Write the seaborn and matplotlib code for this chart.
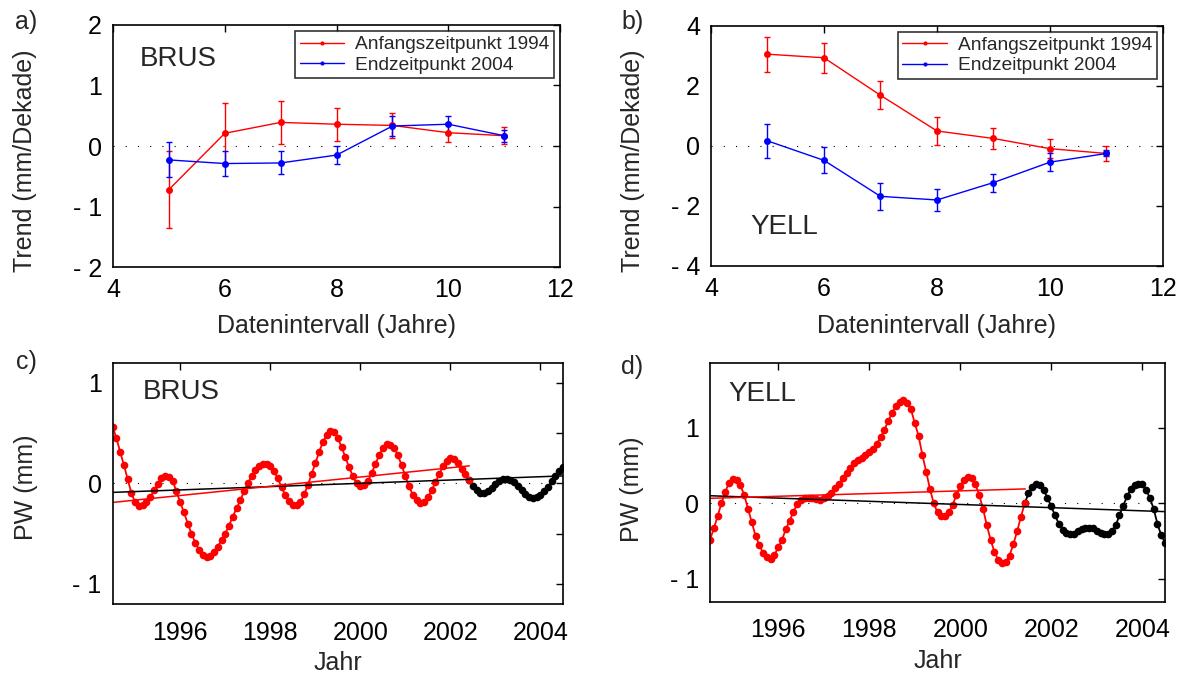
import numpy as np
import matplotlib
matplotlib.use('Agg')
import matplotlib.pyplot as plt
import seaborn as sns

# ---- trend vs. data interval (panels a, b)
intervall = [5, 6, 7, 8, 9, 10, 11]

brus_anf = [-0.72, 0.21, 0.39, 0.36, 0.34, 0.22, 0.17]
brus_anf_err = [0.64, 0.50, 0.36, 0.27, 0.21, 0.16, 0.14]
brus_end = [-0.23, -0.29, -0.28, -0.15, 0.33, 0.36, 0.17]
brus_end_err = [0.29, 0.21, 0.19, 0.15, 0.17, 0.14, 0.10]

yell_anf = [3.06, 2.94, 1.69, 0.50, 0.25, -0.09, -0.25]
yell_anf_err = [0.58, 0.50, 0.47, 0.46, 0.36, 0.31, 0.25]
yell_end = [0.17, -0.48, -1.68, -1.80, -1.22, -0.54, -0.25]
yell_end_err = [0.57, 0.43, 0.45, 0.36, 0.30, 0.30, 0.10]

# ---- monthly PW series 1994.5 - 2004.5 (panels c, d)
start_jahr = 1994.5
brus_pw = [0.56, 0.45, 0.31, 0.18, 0.04, -0.10, -0.19, -0.23, -0.22, -0.19,
           -0.14, -0.07, -0.01, 0.05, 0.07, 0.06, 0.02, -0.08, -0.19, -0.29,
           -0.40, -0.50, -0.59, -0.66, -0.71, -0.73, -0.72, -0.68, -0.63, -0.56,
           -0.50, -0.42, -0.33, -0.25, -0.17, -0.08, 0.00, 0.07, 0.13, 0.17,
           0.19, 0.19, 0.17, 0.12, 0.05, -0.04, -0.12, -0.18, -0.22, -0.22,
           -0.19, -0.11, -0.02, 0.09, 0.20, 0.31, 0.41, 0.48, 0.52, 0.51,
           0.45, 0.36, 0.26, 0.16, 0.07, 0.00, -0.03, -0.02, 0.02, 0.10,
           0.19, 0.28, 0.35, 0.39, 0.38, 0.35, 0.28, 0.18, 0.07, -0.03,
           -0.12, -0.17, -0.20, -0.19, -0.14, -0.07, 0.01, 0.09, 0.17, 0.22,
           0.25, 0.24, 0.20, 0.14, 0.09, 0.03, -0.03, -0.07, -0.10, -0.10,
           -0.08, -0.05, -0.01, 0.02, 0.04, 0.04, 0.03, 0.01, -0.03, -0.07,
           -0.11, -0.14, -0.15, -0.14, -0.12, -0.08, -0.04, 0.02, 0.07, 0.12,
           0.16]
brus_split = 95
brus_trend_rot = ([1994.5, 2002.42], [-0.19, 0.174])
brus_trend_alle = ([1994.5, 2004.5], [-0.09, 0.074])

yell_pw = [-0.48, -0.33, -0.17, 0.00, 0.15, 0.27, 0.32, 0.31, 0.24, 0.11,
           -0.07, -0.25, -0.43, -0.55, -0.66, -0.71, -0.73, -0.68, -0.58, -0.48,
           -0.34, -0.23, -0.11, -0.01, 0.04, 0.07, 0.07, 0.07, 0.06, 0.05,
           0.07, 0.10, 0.14, 0.20, 0.25, 0.33, 0.40, 0.46, 0.53, 0.57,
           0.60, 0.64, 0.68, 0.72, 0.79, 0.87, 0.97, 1.09, 1.19, 1.29,
           1.34, 1.36, 1.33, 1.24, 1.06, 0.89, 0.64, 0.42, 0.19, 0.00,
           -0.12, -0.17, -0.17, -0.12, -0.02, 0.11, 0.23, 0.31, 0.35, 0.33,
           0.25, 0.11, -0.07, -0.29, -0.48, -0.64, -0.75, -0.79, -0.77, -0.69,
           -0.54, -0.37, -0.18, 0.00, 0.13, 0.22, 0.26, 0.24, 0.18, 0.07,
           -0.04, -0.16, -0.27, -0.35, -0.39, -0.41, -0.40, -0.37, -0.34, -0.32,
           -0.32, -0.33, -0.36, -0.39, -0.41, -0.41, -0.37, -0.29, -0.16, -0.03,
           0.09, 0.19, 0.24, 0.26, 0.25, 0.18, 0.07, -0.07, -0.27, -0.42,
           -0.52]
yell_split = 83
yell_trend_rot = ([1994.5, 2001.43], [0.066, 0.19])
yell_trend_alle = ([1994.5, 2004.5], [0.10, -0.11])

sns.set_theme(style='white')
plt.rcParams['font.family'] = ['Liberation Sans', 'DejaVu Sans']
plt.rcParams['axes.linewidth'] = 1.2
plt.rcParams['axes.edgecolor'] = 'black'
FS = 18

fig = plt.figure(figsize=(11.85, 6.75), dpi=100)
ax_a = fig.add_axes([0.0954, 0.6044, 0.3772, 0.3586])
ax_b = fig.add_axes([0.6000, 0.6060, 0.3814, 0.3555])
ax_c = fig.add_axes([0.0951, 0.1052, 0.3800, 0.3575])
ax_d = fig.add_axes([0.5992, 0.1086, 0.3839, 0.3532])


def style_axes(ax, xpad):
    ax.tick_params(direction='in', top=True, right=True, length=5, width=1,
                   labelsize=FS, colors='black', pad=xpad, axis='x')
    ax.tick_params(direction='in', top=True, right=True, length=5, width=1,
                   labelsize=FS, colors='black', pad=8, axis='y')
    for s in ax.spines.values():
        s.set_visible(True)
        s.set_color('black')


def zero_line(ax):
    ax.axhline(0, color='black', lw=0.8, ls=(0, (1, 10)), zorder=1)


def trend_panel(ax, anf, anf_err, end, end_err, ylim, yticks, ylabels, name, name_pos):
    zero_line(ax)
    ax.errorbar(intervall, anf, yerr=anf_err, fmt='none', ecolor='red',
                elinewidth=1, capsize=2.3, capthick=1)
    ax.errorbar(intervall, end, yerr=end_err, fmt='none', ecolor='blue',
                elinewidth=1, capsize=2.3, capthick=1)
    sns.lineplot(x=intervall, y=anf, ax=ax, color='red', lw=1, marker='o',
                 markersize=5, markeredgewidth=0, estimator=None, sort=False,
                 label='Anfangszeitpunkt 1994')
    sns.lineplot(x=intervall, y=end, ax=ax, color='blue', lw=1, marker='o',
                 markersize=5, markeredgewidth=0, estimator=None, sort=False,
                 label='Endzeitpunkt 2004')
    ax.set_xlim(4, 12)
    ax.set_ylim(*ylim)
    ax.set_xticks([4, 6, 8, 10, 12])
    ax.set_yticks(yticks)
    ax.set_yticklabels(ylabels)
    style_axes(ax, 8)
    ax.set_xlabel('Datenintervall (Jahre)', fontsize=FS)
    ax.set_ylabel('Trend (mm/Dekade)', fontsize=FS)
    ax.text(name_pos[0], name_pos[1], name, transform=ax.transAxes,
            fontsize=20, va='center', ha='left')
    leg = ax.legend(loc='upper right', bbox_to_anchor=(0.987, 0.975),
                    fontsize=13.8, frameon=True, fancybox=False,
                    borderpad=0.25, labelspacing=0.15, handlelength=2.3,
                    handletextpad=0.6, borderaxespad=0)
    leg.get_frame().set_edgecolor('black')
    leg.get_frame().set_linewidth(1.2)
    for h in leg.legend_handles:
        h.set_markersize(3)


def pw_panel(ax, pw, split, trend_rot, trend_alle, ylim, yticks, ylabels, name, name_pos):
    jahre = start_jahr + np.arange(len(pw)) / 12.0
    pw = np.array(pw)
    zero_line(ax)
    sns.lineplot(x=jahre[split:], y=pw[split:], ax=ax, color='black', lw=1.3,
                 marker='o', markersize=5.5, markeredgewidth=0, estimator=None, sort=False)
    sns.lineplot(x=jahre[:split + 1], y=pw[:split + 1], ax=ax, color='red', lw=1.3,
                 marker='o', markersize=5.5, markeredgewidth=0, estimator=None, sort=False)
    sns.lineplot(x=trend_alle[0], y=trend_alle[1], ax=ax, color='black', lw=1.1,
                 estimator=None, sort=False)
    sns.lineplot(x=trend_rot[0], y=trend_rot[1], ax=ax, color='red', lw=1.1,
                 estimator=None, sort=False)
    ax.set_xlim(1994.5, 2004.5)
    ax.set_ylim(*ylim)
    ax.set_xticks([1996, 1998, 2000, 2002, 2004])
    ax.set_xticklabels(['1996', '1998', '2000', '2002', '2004'])
    ax.set_yticks(yticks)
    ax.set_yticklabels(ylabels)
    style_axes(ax, 12)
    ax.set_xlabel('Jahr', fontsize=FS)
    ax.set_ylabel('PW (mm)', fontsize=FS)
    ax.text(name_pos[0], name_pos[1], name, transform=ax.transAxes,
            fontsize=20, va='center', ha='left')


trend_panel(ax_a, brus_anf, brus_anf_err, brus_end, brus_end_err,
            (-2, 2), [-2, -1, 0, 1, 2], ['- 2', '- 1', '0', '1', '2'],
            'BRUS', (0.060, 0.86))
trend_panel(ax_b, yell_anf, yell_anf_err, yell_end, yell_end_err,
            (-4, 4), [-4, -2, 0, 2, 4], ['- 4', '- 2', '0', '2', '4'],
            'YELL', (0.086, 0.164))
pw_panel(ax_c, brus_pw, brus_split, brus_trend_rot, brus_trend_alle,
         (-1.2, 1.2), [-1, -0.5, 0, 0.5, 1], ['- 1', '', '0', '', '1'],
         'BRUS', (0.067, 0.879))
pw_panel(ax_d, yell_pw, yell_split, yell_trend_rot, yell_trend_alle,
         (-1.3, 1.85), [-1, 0, 1], ['- 1', '0', '1'],
         'YELL', (0.040, 0.872))

ax_a.yaxis.set_label_coords(-0.197, 0.44)
ax_b.yaxis.set_label_coords(-0.173, 0.44)
ax_c.yaxis.set_label_coords(-0.193, 0.485)
ax_d.yaxis.set_label_coords(-0.171, 0.47)
for ax, yc in [(ax_a, -0.244), (ax_b, -0.25), (ax_c, -0.243), (ax_d, -0.248)]:
    ax.xaxis.set_label_coords(0.5, yc)
    ax.xaxis.label.set_verticalalignment('center')
    ax.yaxis.label.set_verticalalignment('center')

for lab, x, y in [('a)', 26, 22), ('b)', 633, 22), ('c)', 26, 362), ('d)', 632, 367)]:
    fig.text(x / 1185, 1 - y / 675, lab, fontsize=FS, ha='center', va='center')

fig.savefig('out.png', dpi=100)
